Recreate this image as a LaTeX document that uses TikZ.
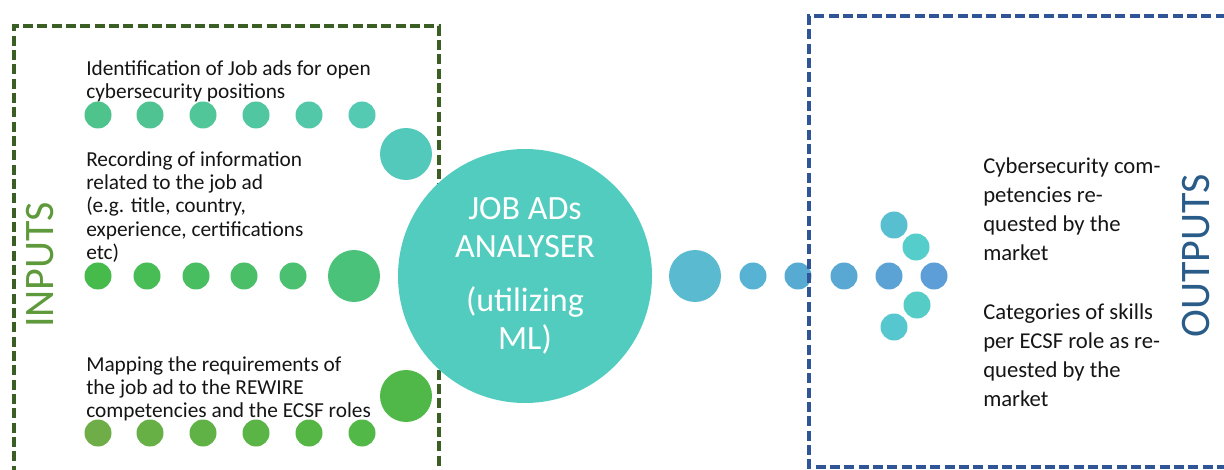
\documentclass[tikz,border=0pt]{standalone}
\usepackage{fontspec}
\setmainfont{Carlito}
\definecolor{boxgreen}{HTML}{3B5E25}
\definecolor{boxblue}{HTML}{2F5597}
\definecolor{ingreen}{HTML}{5E9A3C}
\definecolor{outblue}{HTML}{2A5C8A}
\definecolor{hubteal}{HTML}{53CCC0}
\definecolor{txt}{HTML}{151515}
% row 1 colours
\definecolor{ra1}{HTML}{4EC38B}\definecolor{ra2}{HTML}{4FC492}\definecolor{ra3}{HTML}{50C699}
\definecolor{ra4}{HTML}{51C7A1}\definecolor{ra5}{HTML}{52C8A9}\definecolor{ra6}{HTML}{53CAB1}
\definecolor{ra7}{HTML}{52C9BA}
% row 2 colours
\definecolor{rb1}{HTML}{46BA4A}\definecolor{rb2}{HTML}{48BC55}\definecolor{rb3}{HTML}{49BE60}
\definecolor{rb4}{HTML}{4ABF68}\definecolor{rb5}{HTML}{4BC070}\definecolor{rb6}{HTML}{4BC27A}
% row 3 colours
\definecolor{rc1}{HTML}{6EAD47}\definecolor{rc2}{HTML}{67B046}\definecolor{rc3}{HTML}{60B246}
\definecolor{rc4}{HTML}{5AB446}\definecolor{rc5}{HTML}{55B646}\definecolor{rc6}{HTML}{52B847}
\definecolor{rc7}{HTML}{4FB848}
% output colours
\definecolor{o0}{HTML}{5ABBD0}\definecolor{o1}{HTML}{58B2D3}\definecolor{o2}{HTML}{57ABD2}
\definecolor{o3}{HTML}{59A8D3}\definecolor{o4}{HTML}{5BA3D4}\definecolor{o5}{HTML}{5E9ED8}
\definecolor{ou1}{HTML}{57BFCF}\definecolor{ou2}{HTML}{55CDCB}
\definecolor{ol1}{HTML}{55CDC6}\definecolor{ol2}{HTML}{57C7CF}
\tikzset{
  frame/.style={line width=2.75pt, dash pattern=on 7.5pt off 3.25pt},
  dot/.style={circle, fill=#1, draw=none, minimum size=20.25pt, inner sep=0pt},
  bigdot/.style={circle, fill=#1, draw=none, minimum size=39pt, inner sep=0pt},
  desc/.style={anchor=north west, inner sep=0pt, align=left, text=txt,
    font=\fontsize{16pt}{17.5pt}\selectfont},
  outdesc/.style={anchor=north west, inner sep=0pt, align=left, text=txt,
    font=\fontsize{17pt}{21.75pt}\selectfont},
  bigword/.style={rotate=90, inner sep=0pt, font=\fontsize{31.5pt}{34pt}\selectfont}
}
\begin{document}
\begin{tikzpicture}[x=0.75pt,y=-0.75pt]
\useasboundingbox (0,0) rectangle (1224,470);
% input frame
\draw[frame, draw=boxgreen] (14,490) -- (14,26) -- (439,26) -- (439,490);
\node[bigword, text=ingreen] (inputs) at (40,265) {INPUTS};
% texts
\node[desc] (t1) at (86,60) {Identification of Job ads for open\\cybersecurity positions};
\node[desc] (t2) at (86,151) {Recording of information\\related to the job ad\\(e.g. title, country,\\experience, certifications\\etc)};
\node[desc] (t3) at (86,356) {Mapping the requirements of\\the job ad to the REWIRE\\competencies and the ECSF roles};
% row 1
\node[dot=ra1] (a1) at (98,115) {};
\node[dot=ra2] (a2) at (150,115) {};
\node[dot=ra3] (a3) at (203,115) {};
\node[dot=ra4] (a4) at (256,115) {};
\node[dot=ra5] (a5) at (309,115) {};
\node[dot=ra6] (a6) at (362,115) {};
\node[bigdot=ra7] (a7) at (406,154) {};
% row 2
\node[dot=rb1] (b1) at (98,276) {};
\node[dot=rb2] (b2) at (147,276) {};
\node[dot=rb3] (b3) at (196,276) {};
\node[dot=rb4] (b4) at (244,276) {};
\node[dot=rb5] (b5) at (293,276) {};
\node[bigdot=rb6] (b6) at (354,276) {};
% row 3
\node[dot=rc1] (c1) at (98,433) {};
\node[dot=rc2] (c2) at (150,433) {};
\node[dot=rc3] (c3) at (203,433) {};
\node[dot=rc4] (c4) at (256,433) {};
\node[dot=rc5] (c5) at (309,433) {};
\node[dot=rc6] (c6) at (362,433) {};
\node[bigdot=rc7] (c7) at (406,396) {};
% hub
\node[circle, fill=hubteal, minimum size=190.5pt, inner sep=0pt, text=white, align=center,
  font=\fontsize{25.5pt}{28.5pt}\selectfont] (hub) at (525,276)
  {JOB ADs\\ANALYSER\\[12pt](utilizing\\ML)};
% output dots
\node[bigdot=o0] (d0) at (695,276) {};
\node[dot=o1] (d1) at (753,276) {};
\node[dot=o2] (d2) at (798,276) {};
\node[dot=o3] (d3) at (844,276) {};
\node[dot=o4] (d4) at (889,276) {};
\node[dot=o5] (d5) at (934,276) {};
\node[dot=ou1] (u1) at (894,225) {};
\node[dot=ou2] (u2) at (916,247) {};
\node[dot=ol1] (l1) at (917,305) {};
\node[dot=ol2] (l2) at (894,327) {};
% output frame
\draw[frame, draw=boxblue] (1240,16) -- (809,16) -- (809,467) -- (1240,467);
\node[outdesc] (r1) at (983,157) {Cybersecurity com-\\petencies re-\\quested by the\\market};
\node[outdesc] (r2) at (983,303) {Categories of skills\\per ECSF role as re-\\quested by the\\market};
\node[bigword, text=outblue] (outputs) at (1196,256) {OUTPUTS};
\end{tikzpicture}
\end{document}
